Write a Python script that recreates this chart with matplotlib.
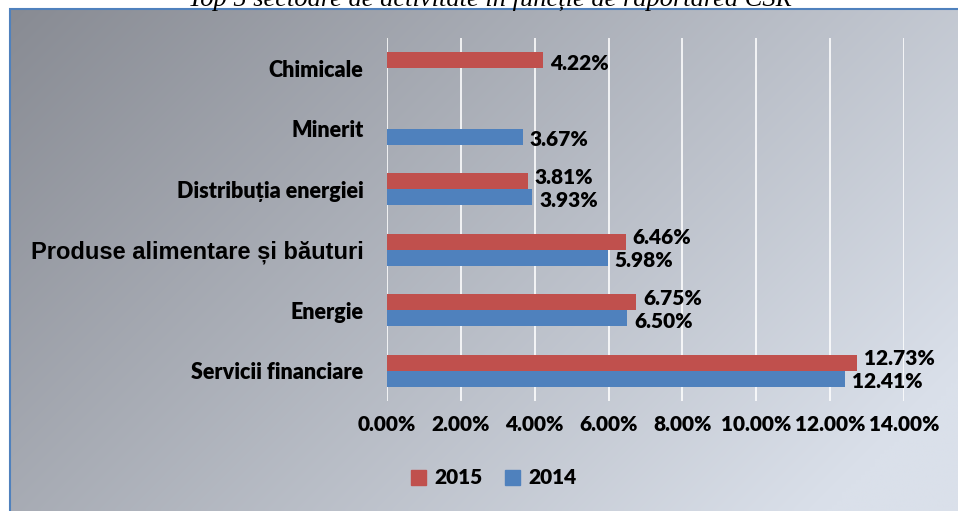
import matplotlib.pyplot as plt
from matplotlib.patches import Rectangle, Patch
import numpy as np

# Data
categories = ["Chimicale", "Minerit", "Distribuția energiei",
              "Produse alimentare și băuturi", "Energie", "Servicii financiare"]
values_2015 = [4.22, np.nan, 3.81, 6.46, 6.75, 12.73]
values_2014 = [np.nan, 3.67, 3.93, 5.98, 6.50, 12.41]
xticks = [0, 2, 4, 6, 8, 10, 12, 14]
title = "Top 5 sectoare de activitate în funcție de raportarea CSR"

RED = "#C0504D"
BLUE = "#4F81BD"
W, H = 958, 511

fig = plt.figure(figsize=(W / 100, H / 100), dpi=100)
fig.patch.set_facecolor("white")

# background panel with diagonal gradient
bg = fig.add_axes([9 / W, 0, 1 - 9 / W, 1 - 9 / H])
xx, yy = np.meshgrid(np.linspace(0, 1, 200), np.linspace(0, 1, 120))
t = np.clip(0.72 * xx + 0.38 * yy, 0, 1)
c0 = np.array([136, 139, 147]) / 255
c1 = np.array([218, 224, 234]) / 255
img = c0[None, None, :] * (1 - t[..., None]) + c1[None, None, :] * t[..., None]
bg.imshow(img, aspect="auto", extent=[0, 1, 1, 0], interpolation="bilinear")
bg.set_xlim(0, 1)
bg.set_ylim(1, 0)
bg.axis("off")
fig.add_artist(Rectangle((9.5 / W, -0.01), 1.0, 1 - 9 / H + 0.01,
                         transform=fig.transFigure, fill=False,
                         edgecolor="#4F81BD", linewidth=1.5))

fig.text(490 / W, 1 - 6 / H, title, ha="center", va="baseline",
         family="Liberation Serif", style="italic", fontsize=19)

ax = fig.add_axes([387 / W, 1 - 401 / H, (904 - 387) / W, (401 - 38) / H])
ax.set_facecolor("none")
for s in ax.spines.values():
    s.set_visible(False)

y = np.arange(len(categories))
h = 0.265
ax.barh(y - h / 2, values_2015, height=h, color=RED, label="2015")
ax.barh(y + h / 2, values_2014, height=h, color=BLUE, label="2014")

lab_font = dict(family="Lato", weight="heavy", fontsize=15)
for i, (a, b) in enumerate(zip(values_2015, values_2014)):
    both = not (np.isnan(a) or np.isnan(b))
    if not np.isnan(a):
        ax.annotate(f"{a:.2f}%", (a, i - h / 2), xytext=(5, 4 if both else -1),
                    textcoords="offset points", va="center_baseline", ha="left", **lab_font)
    if not np.isnan(b):
        ax.annotate(f"{b:.2f}%", (b, i + h / 2), xytext=(5, -1),
                    textcoords="offset points", va="center_baseline", ha="left", **lab_font)

ax.set_xlim(0, 14)
ax.set_ylim(len(categories) - 0.5, -0.5)
ax.set_xticks(xticks)
ax.set_xticklabels([f"{v:.2f}%" for v in xticks], **lab_font)
ax.tick_params(axis="x", length=0, pad=10)
ax.set_yticks(y)
ax.set_yticklabels(categories)
ax.tick_params(axis="y", length=0, pad=17)
for lbl in ax.get_yticklabels():
    if lbl.get_text().startswith("Produse"):
        lbl.set_family("Liberation Sans")
        lbl.set_weight("bold")
        lbl.set_fontsize(17)
    else:
        lbl.set_family("Lato")
        lbl.set_weight("heavy")
        lbl.set_fontsize(15.5)
ax.grid(axis="x", color="white", linewidth=1.3, alpha=0.9)
ax.set_axisbelow(True)

handles = [Patch(color=RED), Patch(color=BLUE)]
fig.legend(handles, ["2015", "2014"], loc="center", bbox_to_anchor=(494 / W, 1 - 478 / H),
           ncol=2, frameon=False, prop=dict(family="Lato", weight="heavy", size=15),
           handlelength=0.7, handleheight=0.7, columnspacing=1.1, handletextpad=0.4)

fig.savefig("out.png", dpi=100)
